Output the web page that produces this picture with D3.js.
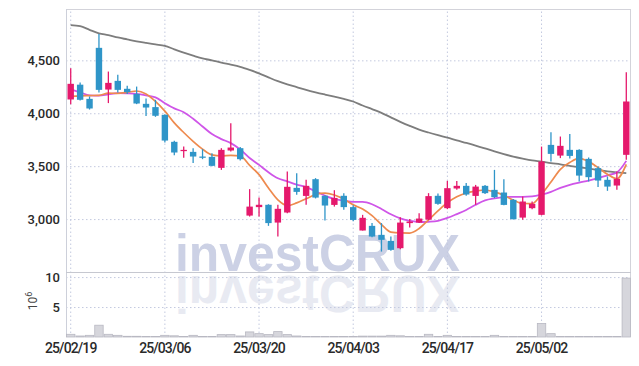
<!DOCTYPE html>
<html><head><meta charset="utf-8">
<script src="https://cdn.jsdelivr.net/npm/d3@7"></script>
<style>html,body{margin:0;padding:0;background:#fff;} svg{display:block;}</style>
</head><body><svg id="c" width="639" height="366"></svg>
<script>
const dates = ["2025-02-19","2025-02-20","2025-02-21","2025-02-24","2025-02-25","2025-02-26","2025-02-27","2025-02-28","2025-03-04","2025-03-05",
"2025-03-06","2025-03-07","2025-03-10","2025-03-11","2025-03-12","2025-03-13","2025-03-14","2025-03-17","2025-03-18","2025-03-19",
"2025-03-20","2025-03-21","2025-03-24","2025-03-25","2025-03-26","2025-03-27","2025-03-28","2025-03-31","2025-04-01","2025-04-02",
"2025-04-03","2025-04-04","2025-04-07","2025-04-08","2025-04-09","2025-04-10","2025-04-11","2025-04-14","2025-04-15","2025-04-16",
"2025-04-17","2025-04-18","2025-04-21","2025-04-22","2025-04-23","2025-04-24","2025-04-25","2025-04-28","2025-04-29","2025-04-30",
"2025-05-02","2025-05-07","2025-05-08","2025-05-09","2025-05-12","2025-05-13","2025-05-14","2025-05-15","2025-05-16","2025-05-19"];
const tickDates = ["2025-02-19","2025-03-06","2025-03-20","2025-04-03","2025-04-17","2025-05-02"];
const openP = [4130,4270,4136,4618,4224,4306,4231,4183,4089,4058,
3985,3730,3642,3635,3591,3588,3484,3648,3670,3033,
3113,3135,2967,3062,3295,3219,3377,3220,3134,3220,
3113,2892,2936,2851,2794,2725,2962,2967,2995,3220,
3103,3289,3314,3219,3314,3276,3251,3182,3014,3103,
3040,3701,3600,3654,3654,3569,3481,3371,3317,3607];
const highP = [4426,4290,4158,4748,4394,4363,4259,4252,4139,4127,
3990,3739,3685,3670,3661,3623,3670,3906,3680,3283,
3203,3140,3135,3449,3434,3371,3387,3225,3273,3245,
3130,3040,2962,2962,2835,3018,3000,3056,3245,3241,
3361,3361,3340,3323,3323,3465,3377,3190,3213,3166,
3685,3821,3780,3803,3661,3582,3496,3402,3449,4388];
const lowP = [4086,4120,4035,4196,4096,4196,4183,4086,3973,3966,
3723,3604,3579,3529,3566,3500,3465,3638,3553,3024,
3024,2936,2835,3056,3229,3135,3195,2986,3118,3087,
2980,2892,2829,2693,2700,2716,2920,2962,2990,3135,
3094,3276,3220,3135,3238,3198,3130,2995,2993,3094,
3035,3544,3576,3572,3355,3355,3302,3267,3276,3560];
const closeP = [4278,4127,4045,4221,4287,4221,4199,4092,4054,3976,
3742,3629,3654,3591,3579,3503,3654,3676,3566,3118,
3135,2962,3097,3305,3257,3314,3203,3128,3200,3113,
2992,3012,2835,2804,2709,2967,2977,3005,3217,3144,
3292,3314,3232,3307,3245,3207,3134,2999,3166,3144,
3544,3616,3692,3597,3411,3396,3364,3307,3380,4111];
// volume, millions of shares
const volume = [0.45,0.17,0.28,1.97,0.45,0.28,0.12,0.12,0.1,0.1,
0.28,0.2,0.1,0.28,0.1,0.1,0.4,0.4,0.17,0.85,
0.56,0.4,0.9,0.4,0.17,0.1,0.1,0.1,0.1,0.1,
0.1,0.15,0.15,0.15,0.28,0.2,0.1,0.1,0.45,0.1,
0.28,0.1,0.1,0.1,0.1,0.28,0.1,0.1,0.1,0.1,
2.25,0.56,0.1,0.1,0.1,0.1,0.1,0.1,0.1,9.83];
const ma5 = [4160,4165,4167,4169,4190,4188,4198,4210,4182,4112,
4020,3909,3818,3735,3661,3607,3597,3602,3597,3507,
3420,3293,3181,3127,3153,3192,3232,3245,3227,3189,
3135,3095,3032,2948,2877,2869,2868,2911,2993,3077,
3155,3211,3247,3265,3275,3257,3225,3180,3147,3146,
3235,3350,3470,3535,3573,3543,3487,3423,3381,3517];
const ma10 = [4226,4198,4169,4167,4179,4190,4188,4183,4169,4150,
4095,4046,4010,3948,3875,3803,3756,3718,3658,3577,
3512,3443,3386,3356,3325,3302,3262,3222,3190,3174,
3162,3162,3140,3096,3045,3006,2984,2972,2975,2984,
3011,3047,3086,3135,3176,3195,3207,3210,3210,3214,
3232,3258,3295,3324,3345,3363,3386,3414,3441,3550];
const ma60 = [4833,4823,4788,4755,4738,4716,4698,4680,4665,4651,
4637,4604,4572,4544,4518,4500,4478,4460,4439,4410,
4377,4339,4303,4273,4247,4221,4198,4177,4157,4136,
4111,4073,4039,4004,3961,3919,3881,3846,3818,3793,
3770,3744,3720,3695,3668,3640,3614,3591,3572,3555,
3543,3529,3517,3503,3489,3477,3463,3450,3442,3435];
const priceTicks = [3000,3500,4000,4500];
const volTicks = [5,10];

const svg = d3.select("#c");
const L = 66, R = 631, T = 9, PB = 272, VB = 337;
const x = d3.scaleBand().domain(dates).range([L, R]).padding(0);
const y = d3.scaleLinear().domain([2500, 4985]).range([PB, T]);
const yv = d3.scaleLinear().domain([0, 10.85]).range([VB, PB]);
const cx = d => x(d) + x.bandwidth() / 2;
const UP = "#e5196c", DOWN = "#2f95c8";
const gridCol = "#c3c9df";

// watermark
const wm = svg.append("g");
wm.append("text").attr("x", 175).attr("y", 271)
  .attr("font-family", "Liberation Sans, Arial, sans-serif").attr("font-weight", "bold")
  .attr("font-size", 52).attr("textLength", 285).attr("lengthAdjust", "spacingAndGlyphs")
  .attr("fill", "#ccd1e5").text("investCRUX");
wm.append("text").attr("x", 175).attr("y", 271)
  .attr("transform", "translate(0,547) scale(1,-1)")
  .attr("font-family", "Liberation Sans, Arial, sans-serif").attr("font-weight", "bold")
  .attr("font-size", 52).attr("textLength", 285).attr("lengthAdjust", "spacingAndGlyphs")
  .attr("fill", "#e8eaf2").text("investCRUX");

// grids
const gY = svg.append("g").attr("transform", `translate(${L},0)`)
  .call(d3.axisLeft(y).tickValues(priceTicks).tickSize(-(R - L)).tickFormat(""));
const gV = svg.append("g").attr("transform", `translate(${L},0)`)
  .call(d3.axisLeft(yv).tickValues(volTicks).tickSize(-(R - L)).tickFormat(""));
const gX = svg.append("g").attr("transform", `translate(0,${VB})`)
  .call(d3.axisBottom(x).tickValues(tickDates).tickSize(-(VB - T)).tickFormat(""));
[gY, gV, gX].forEach(g => {
  g.select(".domain").remove();
  g.selectAll("line").attr("stroke", gridCol).attr("stroke-dasharray", "1.5,2.5");
});

// frame
svg.append("line").attr("x1", L).attr("x2", R).attr("y1", T + 0.5).attr("y2", T + 0.5).attr("stroke", "#d3d3da");
svg.append("line").attr("x1", L + 0.5).attr("x2", L + 0.5).attr("y1", T).attr("y2", VB).attr("stroke", "#cdd0da");
svg.append("line").attr("x1", R - 0.5).attr("x2", R - 0.5).attr("y1", T).attr("y2", VB).attr("stroke", "#d3d3da");
svg.append("line").attr("x1", L).attr("x2", R).attr("y1", PB + 0.5).attr("y2", PB + 0.5).attr("stroke", "#c6c8d0");

// volume bars
svg.append("g").selectAll("rect").data(dates).join("rect")
  .attr("x", d => x(d) + 0.5).attr("width", x.bandwidth() - 1)
  .attr("y", (d, i) => yv(volume[i])).attr("height", (d, i) => VB - yv(volume[i]))
  .attr("fill", "#d6d6dc").attr("stroke", "#b8b8c2").attr("stroke-width", 0.8);

// moving averages
const mkLine = arr => d3.line().x((d, i) => cx(dates[i])).y(d => y(d)).curve(d3.curveMonotoneX)(arr);
svg.append("path").attr("d", mkLine(ma60)).attr("fill", "none").attr("stroke", "#7d7d7d").attr("stroke-width", 1.8);
svg.append("path").attr("d", mkLine(ma10)).attr("fill", "none").attr("stroke", "#cf55e8").attr("stroke-width", 1.8);
svg.append("path").attr("d", mkLine(ma5)).attr("fill", "none").attr("stroke", "#ee8a4e").attr("stroke-width", 1.7);

// candles
const bw = 6.4;
const cg = svg.append("g").selectAll("g").data(dates).join("g");
cg.append("line")
  .attr("x1", d => cx(d)).attr("x2", d => cx(d))
  .attr("y1", (d, i) => y(highP[i])).attr("y2", (d, i) => y(lowP[i]))
  .attr("stroke", (d, i) => closeP[i] >= openP[i] ? UP : DOWN).attr("stroke-width", 1.3);
cg.append("rect")
  .attr("x", d => cx(d) - bw / 2).attr("width", bw)
  .attr("y", (d, i) => y(Math.max(openP[i], closeP[i])))
  .attr("height", (d, i) => Math.max(1.2, Math.abs(y(openP[i]) - y(closeP[i]))))
  .attr("fill", (d, i) => closeP[i] >= openP[i] ? UP : DOWN);

// axis labels
const font = "Roboto, 'Noto Sans', sans-serif";
const aY = svg.append("g").attr("transform", `translate(${L - 6},0)`)
  .call(d3.axisLeft(y).tickValues(priceTicks).tickSize(0).tickPadding(0).tickFormat(d3.format(",")));
const aV = svg.append("g").attr("transform", `translate(${L - 6},0)`)
  .call(d3.axisLeft(yv).tickValues(volTicks).tickSize(0).tickPadding(0));
const aX = svg.append("g").attr("transform", `translate(0,${VB})`)
  .call(d3.axisBottom(x).tickValues(tickDates).tickSize(0).tickPadding(6)
    .tickFormat(d => d.slice(2).replace(/-/g, "/")));
[aY, aV, aX].forEach(g => {
  g.select(".domain").remove();
  g.selectAll("text").attr("font-family", font).attr("font-weight", 500).attr("fill", "#2a2a2a");
});
aY.selectAll("text").attr("font-size", 13);
aV.selectAll("text").attr("font-size", 13);
aX.selectAll("text").attr("font-size", 14).attr("letter-spacing", "-0.9px");

const unit = svg.append("text").attr("transform", "translate(37,301) rotate(-90)")
  .attr("text-anchor", "middle").attr("font-family", font).attr("font-size", 12).attr("fill", "#444");
unit.append("tspan").text("10");
unit.append("tspan").attr("dy", -5).attr("font-size", 9).text("6");
</script></body></html>
